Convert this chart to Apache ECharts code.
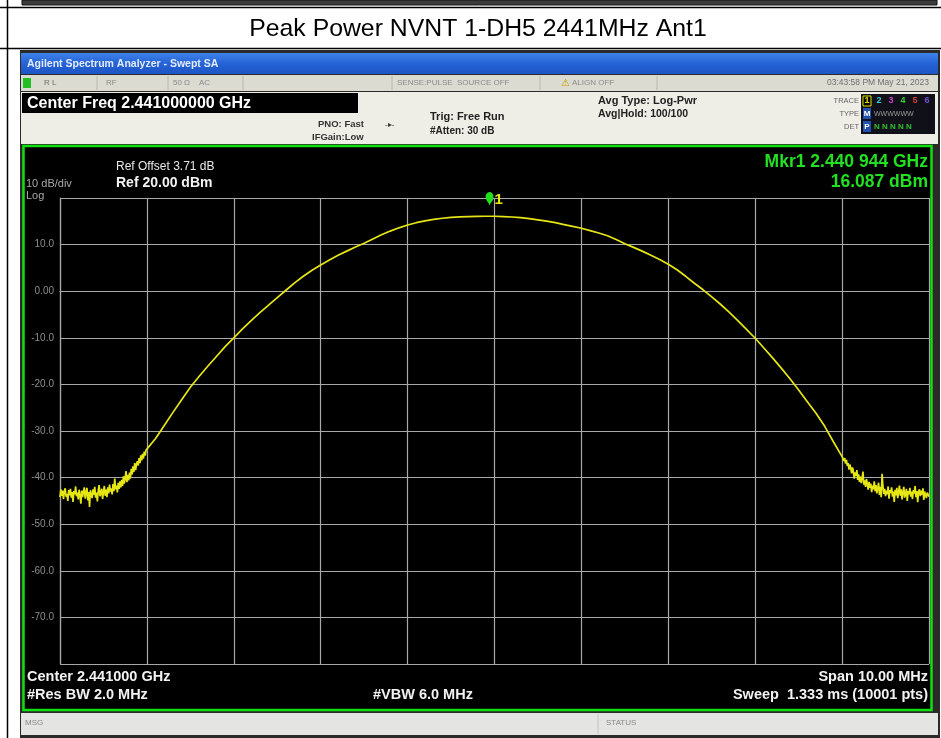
<!DOCTYPE html>
<html>
<head>
<meta charset="utf-8">
<script src="https://cdn.jsdelivr.net/npm/echarts@6/dist/echarts.min.js"></script>
<style>
  html, body { margin: 0; padding: 0; background: #fff; }
  #main { width: 941px; height: 738px; }
</style>
</head>
<body>
<div id="main"></div>
<script>
// sweep settings (MHz / dBm)
var spanStart = 2436, spanStop = 2446;
var refLevel = 20, bottomLevel = -80;

// noise floor, left side: 2436.00 .. 2436.99 every 0.01 MHz
var floorLeftStart = 2436.00, floorStep = 0.01;
var floorLeft = [
  -44.2, -42.5, -43.9, -42.8, -44.6, -43.0, -42.3, -44.1, -43.5, -45.0,
  -42.7, -43.8, -42.4, -44.3, -43.1, -45.2, -42.9, -43.6, -41.9, -44.0,
  -43.2, -44.7, -42.6, -43.9, -45.6, -42.8, -44.2, -43.0, -42.1, -44.5,
  -43.4, -42.2, -44.9, -43.1, -46.3, -42.7, -43.8, -44.4, -42.5, -43.7,
  -42.0, -44.3, -43.2, -45.1, -42.8, -41.6, -44.0, -43.3, -42.4, -44.6,
  -43.0, -41.8, -43.9, -42.6, -44.2, -42.1, -43.4, -41.5, -43.0, -42.3,
  -43.6, -41.4, -42.9, -40.2, -42.5, -41.7, -43.2, -41.1, -42.4, -40.8,
  -42.1, -40.5, -41.8, -39.7, -41.3, -40.1, -38.6, -41.0, -39.4, -40.6,
  -38.9, -40.2, -38.1, -39.3, -37.6, -38.8, -36.9, -38.4, -37.2, -36.5,
  -37.4, -35.8, -36.9, -35.2, -36.3, -34.9, -35.9, -34.4, -35.3, -34.1
];

// main lobe: 2437.0 .. 2445.0 every 0.1 MHz
var lobeStart = 2437.0, lobeStep = 0.1;
var lobe = [
  -34.5, -31.6, -28.8, -26.0, -23.3, -20.6, -18.3, -16.1, -14.0, -11.9,
  -10.0, -8.1, -6.3, -4.6, -3.0, -1.4, 0.2, 1.8, 3.2, 4.5,
  5.6, 6.7, 7.7, 8.6, 9.5, 10.3, 11.2, 12.1, 12.9, 13.6,
  14.2, 14.7, 15.1, 15.4, 15.65, 15.85, 15.95, 16.02, 16.06, 16.08,
  16.08, 16.02, 15.92, 15.77, 15.57, 15.32, 15.03, 14.7, 14.3, 13.9,
  13.5, 13.0, 12.5, 11.9, 11.1, 10.2, 9.4, 8.6, 7.7, 6.8,
  5.8, 4.6, 3.2, 1.7, 0.3, -1.2, -2.8, -4.5, -6.3, -8.2,
  -10.1, -12.2, -14.3, -16.5, -18.8, -21.2, -23.7, -26.2, -29.0, -32.3,
  -35.5
];

// noise floor, right side: 2445.01 .. 2446.00 every 0.01 MHz
var floorRightStart = 2445.01;
var floorRight = [
  -35.1, -36.4, -35.8, -37.0, -36.2, -37.5, -36.9, -38.3, -37.2, -38.0,
  -39.1, -37.8, -38.7, -40.2, -38.9, -39.6, -38.4, -40.5, -39.3, -40.9,
  -39.8, -41.2, -40.1, -38.7, -41.5, -40.6, -42.0, -40.3, -41.4, -42.6,
  -40.9, -42.2, -41.3, -43.1, -41.7, -42.5, -40.8, -42.9, -41.6, -43.4,
  -42.3, -41.1, -43.7, -42.0, -44.2, -39.2, -41.8, -43.5, -42.4, -44.0,
  -42.8, -43.6, -41.9, -44.5, -42.7, -43.3, -42.1, -44.1, -43.0, -45.2,
  -42.6, -43.8, -42.2, -44.4, -43.1, -41.7, -43.9, -42.5, -44.7, -43.2,
  -42.0, -44.3, -43.5, -42.4, -45.0, -42.9, -43.6, -42.2, -44.1, -43.0,
  -44.6, -42.7, -43.4, -41.8, -44.2, -42.9, -45.3, -43.1, -42.5, -44.0,
  -42.8, -43.7, -42.3, -44.8, -43.0, -42.6, -44.4, -43.2, -42.9, -44.1
];

var mkrFreq = 2440.944, mkrLevel = 16.087;

function seg(start, step, vals) {
  return vals.map(function (v, i) { return [Number((start + i * step).toFixed(3)), v]; });
}
var trace = seg(floorLeftStart, floorStep, floorLeft)
  .concat(seg(lobeStart, lobeStep, lobe))
  .concat(seg(floorRightStart, floorStep, floorRight));

var FF = '"Liberation Sans", Arial, sans-serif';
function T(x, y, s, font, fill, align) {
  return {
    type: 'text', x: x, y: y, z: 20,
    style: { text: s, font: font + ' ' + FF, fill: fill,
      align: align || 'left', verticalAlign: 'middle',
      textAlign: align || 'left', textVerticalAlign: 'middle' }
  };
}
function R(x, y, w, h, fill, stroke, lw, z) {
  return { type: 'rect', z: z == null ? -5 : z, shape: { x: x, y: y, width: w, height: h },
    style: { fill: fill || 'none', stroke: stroke || 'none', lineWidth: lw || 0 } };
}
function L(x1, y1, x2, y2, stroke, lw, z) {
  return { type: 'line', z: z == null ? 5 : z, shape: { x1: x1, y1: y1, x2: x2, y2: y2 },
    style: { stroke: stroke, lineWidth: lw || 1 } };
}

var gfx = [
  // report table
  R(22, 0, 915, 5, '#3c3c3c', '#111', 1, -6),
  L(0, 7.5, 941, 7.5, '#000', 1.5),
  L(0, 48.5, 941, 48.5, '#000', 1.5),
  L(7.5, 0, 7.5, 738, '#000', 1.5),
  T(478, 29, 'Peak Power NVNT 1-DH5 2441MHz Ant1', '24.8px', '#000', 'center'),

  // analyzer screenshot frame
  R(20, 50, 920, 688, '#2a2a2a', null, 0, -9),
  {
    type: 'rect', z: -8, shape: { x: 21, y: 53, width: 917, height: 21 },
    style: { fill: new echarts.graphic.LinearGradient(0, 0, 0, 1, [
      { offset: 0, color: '#3f82ea' }, { offset: 0.5, color: '#2563d6' }, { offset: 1, color: '#1d55c4' }]) }
  },
  T(27, 64, 'Agilent Spectrum Analyzer - Swept SA', 'bold 10.5px', '#e4ecff'),

  // status row
  R(21, 75, 917, 16, '#dcdbd2', null, 0, -8),
  R(23, 78, 8, 10, '#22c022', null, 0, 1),
  T(44, 83, 'R L', '8px', '#6e6e6e'),
  T(106, 83, 'RF', '8px', '#8a8a8a'),
  T(173, 83, '50 \u03a9    AC', '8px', '#8a8a8a'),
  T(397, 83, 'SENSE:PULSE  SOURCE OFF', '8px', '#8a8a8a'),
  T(561, 83, '\u26a0', '10px', '#c8a000'),
  T(572, 83, 'ALIGN OFF', '8px', '#8a8a8a'),
  T(929, 83, '03:43:58 PM May 21, 2023', '8.5px', '#6e6e6e', 'right'),
  L(97, 76, 97, 90, '#b8b8b0', 1), L(168, 76, 168, 90, '#b8b8b0', 1),
  L(243, 76, 243, 90, '#b8b8b0', 1), L(392, 76, 392, 90, '#b8b8b0', 1),
  L(540, 76, 540, 90, '#b8b8b0', 1), L(657, 76, 657, 90, '#b8b8b0', 1),

  // settings panel
  R(21, 92, 917, 52, '#eeede6', null, 0, -8),
  R(22, 93, 336, 20, '#000', null, 0, -7),
  T(27, 104, 'Center Freq 2.441000000 GHz', 'bold 16px', '#fff'),
  T(318, 124, 'PNO: Fast', 'bold 9.5px', '#333'),
  T(312, 137, 'IFGain:Low', 'bold 9.5px', '#333'),
  T(385, 125, '-\u25b8-', '8px', '#333'),
  T(430, 117, 'Trig: Free Run', 'bold 11px', '#222'),
  T(430, 131, '#Atten: 30 dB', 'bold 10px', '#222'),
  T(598, 101, 'Avg Type: Log-Pwr', 'bold 11px', '#222'),
  T(598, 114, 'Avg|Hold: 100/100', 'bold 10.5px', '#222'),
  T(859, 101, 'TRACE', '7.5px', '#666', 'right'),
  T(859, 114, 'TYPE', '7.5px', '#666', 'right'),
  T(859, 127, 'DET', '7.5px', '#666', 'right'),
  R(861, 94, 74, 40, '#101018', null, 0, -6),
  R(863, 96, 8, 10, '#000', '#e0e000', 1, 1),
  T(867, 101, '1', 'bold 9px', '#e0e000', 'center'),
  T(879, 101, '2', 'bold 9px', '#30d0e0', 'center'),
  T(891, 101, '3', 'bold 9px', '#d040d0', 'center'),
  T(903, 101, '4', 'bold 9px', '#30d030', 'center'),
  T(915, 101, '5', 'bold 9px', '#d04040', 'center'),
  T(927, 101, '6', 'bold 9px', '#7050d0', 'center'),
  R(863, 108, 8, 11, '#2050b0', null, 0, 1),
  T(867, 114, 'M', 'bold 8px', '#fff', 'center'),
  T(874, 114, 'WWWWWW', '7px', '#999'),
  R(863, 121, 8, 11, '#2050b0', null, 0, 1),
  T(867, 127, 'P', 'bold 8px', '#fff', 'center'),
  T(874, 127, 'N N N N N', 'bold 8px', '#30c030'),

  // measurement window
  R(23.5, 146, 908, 564, '#000', '#10e010', 2.5, -4),
  T(116, 167, 'Ref Offset 3.71 dB', '12px', '#e8e8e8'),
  T(116, 183, 'Ref 20.00 dBm', 'bold 14px', '#f4f4f4'),
  T(26, 184, '10 dB/div', '11px', '#a8a8a8'),
  T(26, 196, 'Log', '11px', '#a8a8a8'),
  T(928, 162, 'Mkr1 2.440 944 GHz', 'bold 17.5px', '#22e022', 'right'),
  T(928, 182, '16.087 dBm', 'bold 17.5px', '#22e022', 'right'),
  T(27, 677, 'Center 2.441000 GHz', 'bold 14.5px', '#f2f2f2'),
  T(27, 695, '#Res BW 2.0 MHz', 'bold 14.5px', '#f2f2f2'),
  T(373, 695, '#VBW 6.0 MHz', 'bold 14.5px', '#f2f2f2'),
  T(928, 677, 'Span 10.00 MHz', 'bold 14.5px', '#f2f2f2', 'right'),
  T(928, 695, 'Sweep  1.333 ms (10001 pts)', 'bold 14.5px', '#f2f2f2', 'right'),

  // message bar
  R(21, 713, 917, 22, '#e4e4e2', null, 0, -8),
  L(598, 714, 598, 734, '#c4c4c0', 1),
  T(25, 723, 'MSG', '8px', '#888'),
  T(606, 723, 'STATUS', '8px', '#888')
];

var chart = echarts.init(document.getElementById('main'), null, { renderer: 'canvas' });
chart.setOption({
  animation: false,
  backgroundColor: '#fff',
  grid: { left: 60, top: 198, width: 869, height: 466 },
  xAxis: {
    type: 'value', min: spanStart, max: spanStop, interval: 1,
    axisLine: { show: true, lineStyle: { color: '#a8a8a8', width: 1.2 } },
    axisTick: { show: false },
    axisLabel: { show: false },
    splitLine: { show: true, lineStyle: { color: '#a8a8a8', width: 1.2 } }
  },
  yAxis: {
    type: 'value', min: bottomLevel, max: refLevel, interval: 10,
    axisLine: { show: true, lineStyle: { color: '#a8a8a8', width: 1.2 } },
    axisTick: { show: false },
    axisLabel: {
      color: '#8c8c8c', fontSize: 10, fontFamily: '"Liberation Sans", Arial', margin: 6,
      formatter: function (v) {
        if (v >= refLevel || v <= bottomLevel) return '';
        return v === 0 ? '0.00' : v.toFixed(1);
      }
    },
    splitLine: { show: true, lineStyle: { color: '#a8a8a8', width: 1.2 } }
  },
  series: [{
    type: 'line',
    data: trace,
    showSymbol: false,
    lineStyle: { color: '#e6e614', width: 1.7 },
    z: 3,
    markPoint: {
      symbol: 'pin',
      symbolSize: [13, 17],
      symbolOffset: [0, '-55%'],
      itemStyle: { color: '#20e020' },
      label: { show: true, formatter: '1', position: 'right', distance: 1,
        color: '#e8e800', fontSize: 15, fontWeight: 'bold', fontFamily: '"Liberation Sans", Arial' },
      data: [{ coord: [mkrFreq, mkrLevel] }]
    }
  }],
  graphic: gfx
});
</script>
</body>
</html>
